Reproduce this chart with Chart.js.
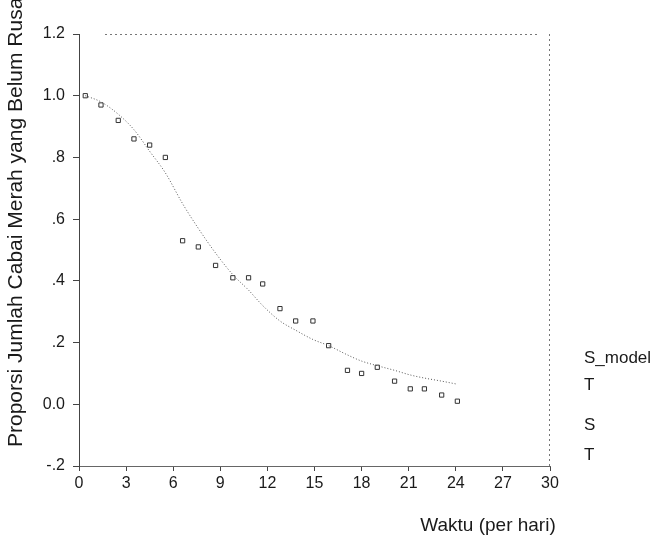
<!DOCTYPE html>
<html>
<head>
<meta charset="utf-8">
<script src="https://cdn.jsdelivr.net/npm/chart.js@4.4.0/dist/chart.umd.min.js"></script>
<style>
  html, body { margin: 0; padding: 0; background: #fff; }
  #wrap { width: 670px; height: 544px; }
</style>
</head>
<body>
<div id="wrap"><canvas id="myChart" width="670" height="544"></canvas></div>
<script>
// hari (waktu) untuk tiap pengamatan
const days = [0.4, 1.4, 2.5, 3.5, 4.5, 5.5, 6.6, 7.6, 8.7, 9.8, 10.8, 11.7,
              12.8, 13.8, 14.9, 15.9, 17.1, 18.0, 19.0, 20.1, 21.1, 22.0, 23.1, 24.1];
// proporsi teramati (S)
const s_obs = [1.00, 0.97, 0.92, 0.86, 0.84, 0.80, 0.53, 0.51, 0.45, 0.41, 0.41, 0.39,
               0.31, 0.27, 0.27, 0.19, 0.11, 0.10, 0.12, 0.075, 0.05, 0.05, 0.03, 0.01];
// kurva model (S_model)
const s_model = [1.00, 0.98, 0.94, 0.89, 0.82, 0.75, 0.65, 0.57, 0.49, 0.42, 0.37, 0.32,
                 0.27, 0.24, 0.21, 0.19, 0.16, 0.14, 0.125, 0.11, 0.095, 0.085, 0.075, 0.065];

const yTickLabels = ['-.2', '0.0', '.2', '.4', '.6', '.8', '1.0', '1.2'];
const legendLabels = ['S_model', 'T', 'S', 'T'];
const xTitle = 'Waktu (per hari)';
const yTitle = 'Proporsi Jumlah Cabai Merah yang Belum Rusak';

const ink = '#1a1a1a';
const lineGray = '#555';

// frame + text labels
const extras = {
  id: 'extras',
  beforeDatasetsDraw(chart) {
    const ca = chart.chartArea;
    const ctx = chart.ctx;
    ctx.save();
    ctx.strokeStyle = '#777';
    ctx.lineWidth = 1;
    ctx.setLineDash([2, 3]);
    ctx.beginPath();
    ctx.moveTo(ca.left + 26, ca.top + 0.5);
    ctx.lineTo(ca.right - 10, ca.top + 0.5);
    ctx.moveTo(ca.right - 0.5, ca.top);
    ctx.lineTo(ca.right - 0.5, ca.bottom);
    ctx.stroke();
    ctx.restore();
  },
  afterDraw(chart) {
    const ca = chart.chartArea;
    const ctx = chart.ctx;
    ctx.save();
    ctx.fillStyle = ink;
    ctx.textBaseline = 'middle';

    // y title, starts near the bottom and runs off the top
    ctx.save();
    ctx.font = '21px "Liberation Sans", Arial, sans-serif';
    ctx.translate(16, ca.bottom - 19);
    ctx.rotate(-Math.PI / 2);
    ctx.textAlign = 'left';
    ctx.fillText(yTitle, 0, 0);
    ctx.restore();

    // x title
    ctx.font = '19px "Liberation Sans", Arial, sans-serif';
    ctx.textAlign = 'center';
    ctx.fillText(xTitle, ca.right - 62, ca.bottom + 60);

    // legend text
    ctx.font = '17px "Liberation Sans", Arial, sans-serif';
    ctx.textAlign = 'left';
    const ly = [358, 385, 425, 455];
    legendLabels.forEach((t, i) => ctx.fillText(t, ca.right + 34, ly[i]));
    ctx.restore();
  }
};

const data = {
  datasets: [
    {
      label: 'S_model',
      data: days.map((d, i) => ({ x: d, y: s_model[i] })),
      showLine: true,
      borderColor: lineGray,
      borderWidth: 1,
      borderDash: [1, 2],
      pointRadius: 0,
      cubicInterpolationMode: 'monotone',
      fill: false
    },
    {
      label: 'S',
      data: days.map((d, i) => ({ x: d, y: s_obs[i] })),
      showLine: false,
      pointStyle: 'rect',
      pointRadius: 3,
      pointBorderWidth: 1,
      pointBorderColor: '#333',
      pointBackgroundColor: 'rgba(255,255,255,0)'
    }
  ]
};

const config = {
  type: 'scatter',
  data: data,
  options: {
    responsive: false,
    animation: false,
    layout: { padding: { left: 0, right: 120, top: 34, bottom: 0 } },
    plugins: {
      legend: { display: false },
      tooltip: { enabled: false }
    },
    scales: {
      x: {
        type: 'linear',
        min: 0,
        max: 30,
        afterFit: s => { s.height = 78; },
        ticks: {
          stepSize: 3,
          color: ink,
          padding: 3,
          font: { family: '"Liberation Sans", Arial, sans-serif', size: 16 }
        },
        grid: { drawOnChartArea: false, tickLength: 5, color: '#444' },
        border: { color: '#666', dash: [3, 2] }
      },
      y: {
        type: 'linear',
        min: -0.2,
        max: 1.2,
        afterFit: s => { s.width = 79; },
        ticks: {
          stepSize: 0.2,
          color: ink,
          padding: 8,
          font: { family: '"Liberation Sans", Arial, sans-serif', size: 16 },
          callback: (v, i) => yTickLabels[i]
        },
        grid: { drawOnChartArea: false, tickLength: 6, color: '#444' },
        border: { color: '#444', dash: [5, 2] }
      }
    }
  },
  plugins: [extras]
};

window.myChart = new Chart(document.getElementById('myChart'), config);
</script>
</body>
</html>
